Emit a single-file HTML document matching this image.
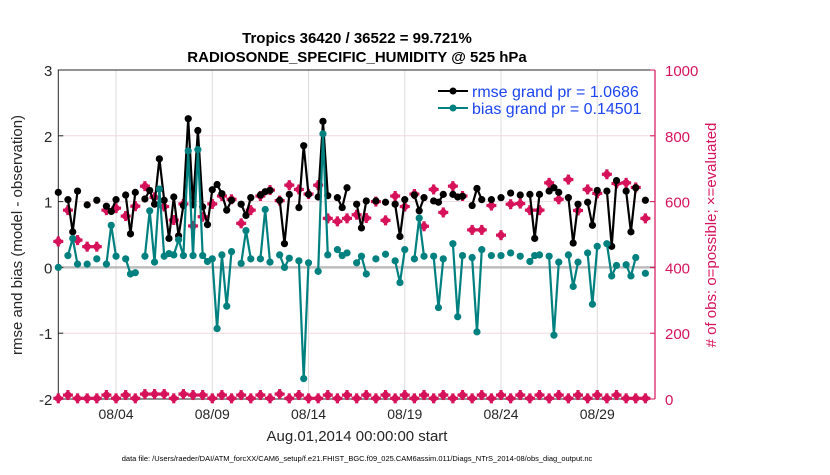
<!DOCTYPE html>
<html><head><meta charset="utf-8"><style>
body{margin:0;background:#fff}
svg text{font-family:"Liberation Sans",Arial,sans-serif}
</style></head><body>
<svg id="chart" width="830" height="470" xmlns="http://www.w3.org/2000/svg">
<g id="g"></g>
</svg>
<script>
// 6-hourly time index (0 = Aug 01 00Z)
const rmseIdx=[0,2,3,4,6,8,10,11,12,14,15,16,18,19,20,21,22,23,24,25,26,27,28,29,30,31,32,33,34,35,36,38,39,40,42,43,44,46,47,48,50,51,52,54,55,56,58,59,60,62,63,64,66,68,70,71,72,74,75,76,78,79,80,82,83,84,86,87,88,90,92,94,96,98,99,100,102,103,104,106,107,108,110,111,112,114,115,116,118,119,120,122];
const rmseVal=[1.14,1.03,0.54,1.16,0.95,1.02,0.93,0.85,1.03,1.10,0.51,1.14,1.04,1.17,0.96,1.65,1.02,0.44,1.07,0.48,0.94,2.26,0.95,2.08,0.92,0.65,1.18,1.26,1.12,0.87,1.02,0.96,0.79,1.06,1.10,1.15,1.17,1.02,0.36,1.11,0.91,1.85,1.11,1.07,2.22,1.09,1.06,0.91,1.21,0.96,0.60,1.01,1.01,0.99,0.96,0.47,1.03,1.10,0.86,1.06,1.01,0.99,1.11,1.11,1.07,1.08,0.94,1.20,1.03,1.03,1.06,1.13,1.10,1.11,0.44,1.11,1.16,1.21,1.14,1.06,0.37,0.96,0.99,0.64,1.17,1.16,0.32,1.32,1.16,0.54,1.21,1.02];
const biasIdx=[0,2,3,4,6,8,10,11,12,14,15,16,18,19,20,21,22,23,24,25,26,27,28,29,30,31,32,33,34,35,36,38,39,40,42,43,44,46,47,48,50,51,52,54,55,56,58,59,60,62,63,64,66,68,70,71,72,74,75,76,78,79,80,82,83,84,86,87,88,90,92,94,96,98,99,100,102,103,104,106,107,108,110,111,112,114,115,116,118,119,120,122];
const biasVal=[0.0,0.18,0.44,0.05,0.05,0.13,0.05,0.64,0.17,0.13,-0.10,-0.08,0.17,0.86,0.08,1.19,0.17,0.21,0.19,0.42,0.18,1.77,0.18,1.79,0.18,0.09,0.13,-0.93,0.19,-0.59,0.24,0.06,0.56,0.13,0.13,0.88,0.08,0.19,0.0,0.14,0.10,-1.69,0.07,-0.06,2.03,0.19,0.27,0.18,0.22,0.07,0.17,-0.10,0.13,0.20,0.10,-0.23,0.27,0.13,0.75,0.17,0.17,-0.61,0.13,0.36,-0.75,0.18,0.15,-0.98,0.27,0.18,0.18,0.22,0.17,0.09,0.18,0.19,0.17,-1.03,0.08,0.19,-0.29,0.08,0.22,-0.56,0.32,0.36,-0.13,0.03,0.04,-0.13,0.15,-0.09];
const usedIdx=[0,2,4,6,8,10,12,14,16,18,20,22,24,26,28,30,32,34,36,38,40,42,44,46,48,50,52,54,56,58,60,62,64,66,68,70,72,74,76,78,80,82,84,86,88,90,92,94,96,98,100,102,104,106,108,110,112,114,116,118,120,122];
const usedVal=[479,574,483,463,463,574,580,556,586,647,613,585,544,593,526,554,593,617,607,534,574,617,635,603,650,637,623,650,549,540,549,560,550,600,543,617,585,623,525,637,567,647,617,514,514,588,498,592,594,574,574,657,607,667,573,637,625,683,655,657,643,549];
const possVal=[2,12,2,2,2,12,2,12,2,15,15,15,2,15,12,12,2,12,2,12,2,12,2,15,2,12,2,2,12,2,12,2,12,2,12,2,12,2,12,2,12,2,12,2,12,2,12,2,12,2,12,2,12,2,12,2,12,2,12,2,2,2];
const leftTicks=[3,2,1,0,-1,-2];
const rightTicks=[0,200,400,600,800,1000];
const dateTicks=[3,8,13,18,23,28];
const dateLabels=["08/04","08/09","08/14","08/19","08/24","08/29"];

const L=58.3,R=655,T=70,B=399;
const xd=d=>L+d*(R-L)/31;
const xi=i=>xd(i/4);
const yl=v=>B-(v+2)*(B-T)/5;
const yr=v=>B-v*(B-T)/1000;
const NS="http://www.w3.org/2000/svg";
const g=document.getElementById('g');
function el(tag,attrs,parent){const e=document.createElementNS(NS,tag);for(const k in attrs)e.setAttribute(k,attrs[k]);(parent||g).appendChild(e);return e;}
const PINK="#d6135a",TEAL="#00807f";

// grid
dateTicks.forEach((d,k)=>{
  const l=el('line',{x1:xd(d),x2:xd(d),y1:T,y2:B,stroke:'#dcdcdc','stroke-width':1});
  
  
  const t=el('text',{x:xd(d),y:B+20,'text-anchor':'middle','font-size':14,fill:'#262626'});
  t.textContent=dateLabels[k];
  
  
});
rightTicks.forEach(v=>{
  if(v===0||v===1000||v===400)return;
  const l=el('line',{x1:L,x2:R,y1:yr(v),y2:yr(v),stroke:'#f0d8e0','stroke-width':1});
  
  
});
const zl=el('line',{x1:L,x2:R,y1:yl(0),y2:yl(0),stroke:'#bdbdbd','stroke-width':2.5});



// axes
const fr=el('path',{d:`M${L},${B}V${T}H${R}M${L},${B}H${R}`,stroke:'#262626',fill:'none','stroke-width':1});


const ra=el('line',{x1:R,x2:R,y1:T,y2:B,stroke:PINK,'stroke-width':1.2});


leftTicks.forEach(v=>{
  const t=el('text',{x:L-6,y:yl(v)+6,'text-anchor':'end','font-size':15,fill:'#262626'});
  t.textContent=v;
  
  
  el('line',{x1:L,x2:L+5,y1:yl(v),y2:yl(v),stroke:'#262626'});
});
rightTicks.forEach(v=>{
  const t=el('text',{x:R+10,y:yr(v)+6,'font-size':15,fill:PINK});
  t.textContent=v;
  
  
  el('line',{x1:R-5,x2:R,y1:yr(v),y2:yr(v),stroke:PINK});
});

function series(idx,val,color,name){
  let d='';
  for(let k=0;k<idx.length;k++){
    const c=(k>0&&idx[k]-idx[k-1]===1)?'L':'M';
    d+=c+xi(idx[k]).toFixed(1)+','+yl(val[k]).toFixed(1);
  }
  const p=el('path',{d:d,stroke:color,fill:'none','stroke-width':2.2});
  
  
  for(let k=0;k<idx.length;k++){
    const c=el('circle',{cx:xi(idx[k]),cy:yl(val[k]),r:3.6,fill:color});
    
    
  }
}
function pinkMark(x,y,name){
  const gg=el('g',{});
  
  
  el('circle',{cx:x,cy:y,r:3.6,fill:PINK},gg);
  el('rect',{x:x-5,y:y-1.6,width:10,height:3.2,fill:PINK},gg);
  el('rect',{x:x-1.6,y:y-5,width:3.2,height:10,fill:PINK},gg);
}
usedIdx.forEach((i,k)=>pinkMark(xi(i),yr(possVal[k]),'obs-possible-marker'));
usedIdx.forEach((i,k)=>pinkMark(xi(i),yr(usedVal[k]),'obs-evaluated-marker'));
series(rmseIdx,rmseVal,'#000','rmse');
series(biasIdx,biasVal,TEAL,'bias');
</script>
<svg width="830" height="470" style="position:absolute;left:0;top:0" xmlns="http://www.w3.org/2000/svg">
<text x="357" y="43" text-anchor="middle" font-size="15" font-weight="bold" fill="#000" font-family="Liberation Sans, sans-serif">Tropics 36420 / 36522 = 99.721%</text>
<text x="357" y="62" text-anchor="middle" font-size="15" font-weight="bold" fill="#000" font-family="Liberation Sans, sans-serif">RADIOSONDE_SPECIFIC_HUMIDITY @ 525 hPa</text>
<g font-family="Liberation Sans, sans-serif">
<line x1="438" x2="468" y1="91" y2="91" stroke="#000" stroke-width="2"/><circle cx="453" cy="91" r="3.5" fill="#000"/>
<text x="472" y="97" font-size="16" fill="#1a45f0">rmse grand pr = 1.0686</text>
<line x1="438" x2="468" y1="108" y2="108" stroke="#00807f" stroke-width="2"/><circle cx="453" cy="108" r="3.5" fill="#00807f"/>
<text x="472" y="114" font-size="16" fill="#1a45f0">bias grand pr = 0.14501</text>
</g>
<text transform="translate(22,235) rotate(-90)" text-anchor="middle" font-size="15" fill="#262626" font-family="Liberation Sans, sans-serif">rmse and bias (model - observation)</text>
<text transform="translate(716,235) rotate(-90)" text-anchor="middle" font-size="15" fill="#d6135a" font-family="Liberation Sans, sans-serif"># of obs: o=possible; ×=evaluated</text>
<text x="357" y="441" text-anchor="middle" font-size="15" fill="#262626" font-family="Liberation Sans, sans-serif">Aug.01,2014 00:00:00 start</text>
<text x="357" y="461" text-anchor="middle" font-size="7.5" fill="#000" font-family="Liberation Sans, sans-serif">data file: /Users/raeder/DAI/ATM_forcXX/CAM6_setup/f.e21.FHIST_BGC.f09_025.CAM6assim.011/Diags_NTrS_2014-08/obs_diag_output.nc</text>
</svg>
</body></html>
